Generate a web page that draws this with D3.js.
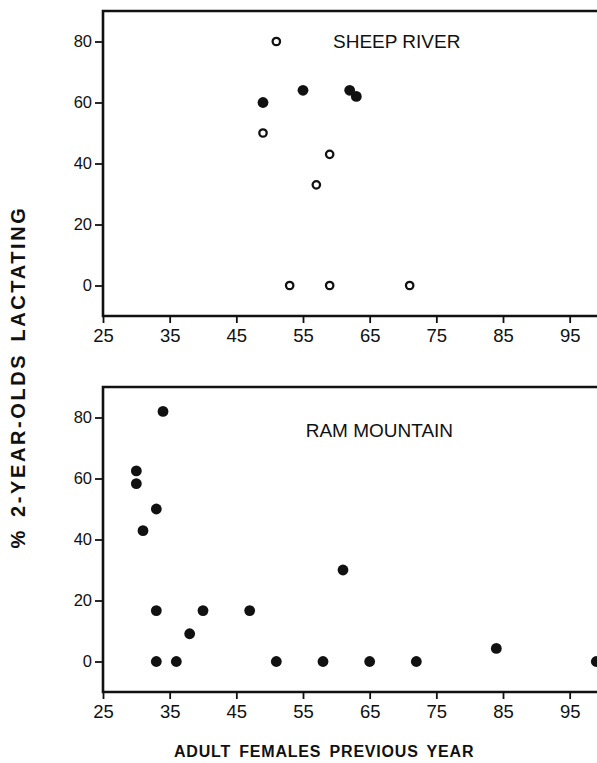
<!DOCTYPE html>
<html>
<head>
<meta charset="utf-8">
<script src="https://cdn.jsdelivr.net/npm/d3@7"></script>
<style>
  body { margin: 0; background: #fff; }
  svg { display: block; font-family: "Liberation Sans", Arial, Helvetica, sans-serif; }
</style>
</head>
<body>
<div id="chart"></div>
<script>
var width = 597;
var height = 763;

// Sheep River: open = one group of years, filled = another
var sheepOpenX = [51, 49, 59, 57, 53, 59, 71];
var sheepOpenY = [80, 50, 43, 33, 0, 0, 0];
var sheepFilledX = [49, 55, 62, 63];
var sheepFilledY = [60, 64, 64, 62];

// Ram Mountain
var ramX = [34, 30, 30, 33, 31, 61, 33, 40, 47, 38, 33, 36, 51, 58, 65, 72, 84, 99];
var ramY = [82, 62.5, 58.3, 50, 42.9, 30, 16.7, 16.7, 16.7, 9.1, 0, 0, 0, 0, 0, 0, 4.3, 0];

var xTicks = [25, 35, 45, 55, 65, 75, 85, 95];
var yTicks = [0, 20, 40, 60, 80];

var svg = d3
  .select("#chart")
  .append("svg")
  .attr("width", width)
  .attr("height", height);

var x = d3.scaleLinear().domain([25, 100]).range([103, 603]);

function zip(xs, ys) {
  return xs.map(function(v, i) {
    return { x: v, y: ys[i] };
  });
}

function drawPanel(top, bottom, title, titleAt, filled, open) {
  var y = d3.scaleLinear().domain([-10, 90]).range([bottom, top]);
  var g = svg.append("g");

  // frame: top, left, bottom
  g.append("path")
    .attr("d", "M" + x.range()[1] + "," + top + "H" + x(25) + "V" + bottom + "H" + x.range()[1])
    .attr("fill", "none")
    .attr("stroke", "#111")
    .attr("stroke-width", 2.6);

  var yAxis = g
    .append("g")
    .attr("transform", "translate(" + x(25) + ",0)")
    .call(d3.axisLeft(y).tickValues(yTicks).tickSize(8).tickPadding(3));

  var xAxis = g
    .append("g")
    .attr("transform", "translate(0," + bottom + ")")
    .call(d3.axisBottom(x).tickValues(xTicks).tickSize(7).tickPadding(6));

  [yAxis, xAxis].forEach(function(a) {
    a.select(".domain").remove();
    a.selectAll("line").attr("stroke", "#111").attr("stroke-width", 1.8);
    a.selectAll("text").attr("fill", "#111").style("font-family", null);
  });
  yAxis.selectAll("text").attr("font-size", 16.5);
  xAxis.selectAll("text").attr("font-size", 18.5);

  g.append("text")
    .attr("x", x(titleAt[0]))
    .attr("y", y(titleAt[1]))
    .attr("font-size", 19)
    .attr("fill", "#111")
    .text(title);

  g.selectAll(".open")
    .data(open)
    .enter()
    .append("circle")
    .attr("cx", function(d) { return x(d.x); })
    .attr("cy", function(d) { return y(d.y); })
    .attr("r", 3.7)
    .attr("fill", "#fff")
    .attr("stroke", "#111")
    .attr("stroke-width", 2.3);

  g.selectAll(".filled")
    .data(filled)
    .enter()
    .append("circle")
    .attr("cx", function(d) { return x(d.x); })
    .attr("cy", function(d) { return y(d.y); })
    .attr("r", 5.4)
    .attr("fill", "#111");
}

drawPanel(11, 316, "SHEEP RIVER", [59.5, 78], zip(sheepFilledX, sheepFilledY), zip(sheepOpenX, sheepOpenY));
drawPanel(387, 692, "RAM MOUNTAIN", [55.4, 73.6], zip(ramX, ramY), []);

// axis titles
svg.append("text")
  .attr("x", 174)
  .attr("y", 757)
  .attr("font-size", 16)
  .attr("font-weight", "bold")
  .attr("letter-spacing", 0.8)
  .attr("word-spacing", 3)
  .attr("fill", "#111")
  .text("ADULT FEMALES PREVIOUS YEAR");

svg.append("text")
  .attr("transform", "translate(25,377) rotate(-90)")
  .attr("text-anchor", "middle")
  .attr("font-size", 20)
  .attr("font-weight", "bold")
  .attr("letter-spacing", 2.6)
  .attr("word-spacing", 3)
  .attr("fill", "#111")
  .text("% 2-YEAR-OLDS LACTATING");
</script>
</body>
</html>
